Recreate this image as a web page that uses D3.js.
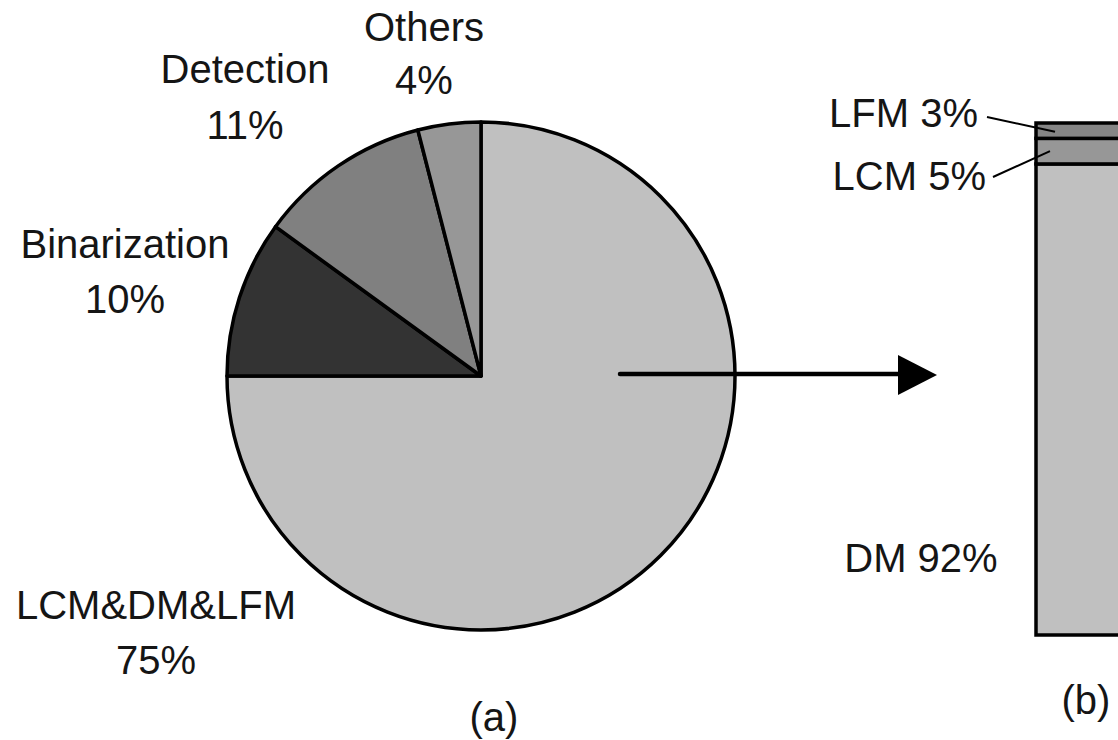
<!DOCTYPE html>
<html>
<head>
<meta charset="utf-8">
<script src="https://cdn.jsdelivr.net/npm/d3@7"></script>
<style>
  html, body { margin: 0; padding: 0; background: #fff; }
  svg { display: block; }
  text { font-family: "Liberation Sans", Arial, sans-serif; fill: #151515; }
</style>
</head>
<body>
<svg id="chart" width="1118" height="740"></svg>
<script>
// (a) share of processing time per stage
const pieNames   = ["LCM&DM&LFM", "Binarization", "Detection", "Others"];
const pieValues  = [75, 10, 11, 4];
const pieColors  = ["#c0c0c0", "#333333", "#808080", "#979797"];

// (b) breakdown of the LCM&DM&LFM stage
const barNames   = ["DM", "LCM", "LFM"];
const barValues  = [92, 5, 3];
const barColors  = ["#c0c0c0", "#979797", "#858585"];

const svg = d3.select("#chart");
const FONT = 40;

// ---------- pie ----------
const cx = 481, cy = 376, r = 254;
const pie = d3.pie().sort(null).value(d => d.v);
const arcs = pie(pieNames.map((n, i) => ({ n, v: pieValues[i], c: pieColors[i] })));
const arc = d3.arc().innerRadius(0).outerRadius(r);

svg.append("g")
  .attr("transform", `translate(${cx},${cy})`)
  .selectAll("path")
  .data(arcs)
  .join("path")
  .attr("d", arc)
  .attr("fill", d => d.data.c)
  .attr("stroke", "#000")
  .attr("stroke-width", 3.5)
  .attr("stroke-linejoin", "round");

// slice labels: name on the first line, percent below
const pieLabelPos = {
  "LCM&DM&LFM":  [156, 619, 674],
  "Binarization": [125, 258, 313],
  "Detection":   [245, 83, 139],
  "Others":      [424, 41, 94]
};
arcs.forEach(a => {
  const [x, y1, y2] = pieLabelPos[a.data.n];
  svg.append("text").attr("x", x).attr("y", y1)
    .attr("text-anchor", "middle").attr("font-size", FONT).text(a.data.n);
  svg.append("text").attr("x", x).attr("y", y2)
    .attr("text-anchor", "middle").attr("font-size", FONT).text(a.data.v + "%");
});

// ---------- arrow ----------
svg.append("line")
  .attr("x1", 620).attr("y1", 374).attr("x2", 902).attr("y2", 374)
  .attr("stroke", "#000").attr("stroke-width", 4.5).attr("stroke-linecap", "round");
svg.append("path")
  .attr("d", "M898,355 L937,375 L898,395 Z")
  .attr("fill", "#000");

// ---------- stacked bar ----------
const y = d3.scaleLinear().domain([0, 100]).range([635, 123]);
const barX = 1036, barW = 110;
let acc = 0;
const stack = barNames.map((n, i) => {
  const s = { n, v: barValues[i], c: barColors[i], y0: acc, y1: acc + barValues[i] };
  acc += barValues[i];
  return s;
});

svg.append("g").selectAll("rect")
  .data(stack)
  .join("rect")
  .attr("x", barX)
  .attr("y", d => y(d.y1))
  .attr("width", barW)
  .attr("height", d => y(d.y0) - y(d.y1))
  .attr("fill", d => d.c)
  .attr("stroke", "#000")
  .attr("stroke-width", 3.5);

// bar labels
const dm = stack[0], lcm = stack[1], lfm = stack[2];
svg.append("text").attr("x", 921).attr("y", 572)
  .attr("text-anchor", "middle").attr("font-size", FONT).text(`${dm.n} ${dm.v}%`);
svg.append("text").attr("x", 978).attr("y", 127)
  .attr("text-anchor", "end").attr("font-size", FONT).text(`${lfm.n} ${lfm.v}%`);
svg.append("text").attr("x", 986).attr("y", 190)
  .attr("text-anchor", "end").attr("font-size", FONT).text(`${lcm.n} ${lcm.v}%`);

// leader lines into the thin segments
svg.append("line")
  .attr("x1", 987).attr("y1", 117)
  .attr("x2", 1055).attr("y2", (y(lfm.y0) + y(lfm.y1)) / 2 + 1)
  .attr("stroke", "#000").attr("stroke-width", 2);
svg.append("line")
  .attr("x1", 993).attr("y1", 177)
  .attr("x2", 1050).attr("y2", (y(lcm.y0) + y(lcm.y1)) / 2)
  .attr("stroke", "#000").attr("stroke-width", 2);

// panel captions
svg.append("text").attr("x", 494).attr("y", 731)
  .attr("text-anchor", "middle").attr("font-size", FONT).text("(a)");
svg.append("text").attr("x", 1086).attr("y", 714)
  .attr("text-anchor", "middle").attr("font-size", FONT).text("(b)");
</script>
</body>
</html>
